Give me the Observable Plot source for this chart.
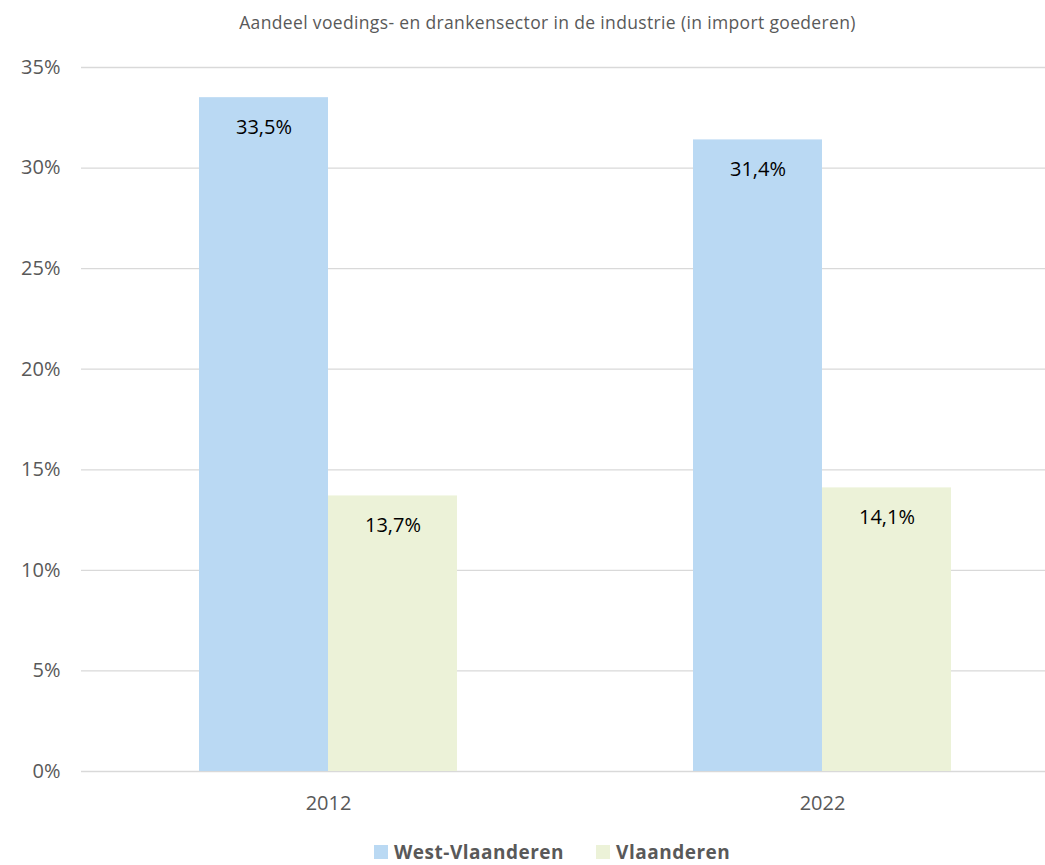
<!DOCTYPE html>
<html>
<head>
<meta charset="utf-8">
<script src="https://cdn.jsdelivr.net/npm/d3@7"></script>
<script src="https://cdn.jsdelivr.net/npm/@observablehq/plot@0.6"></script>
<style>
  html, body { margin: 0; padding: 0; background: #fff; width: 1045px; height: 865px; overflow: hidden; }
  #wrap { position: relative; width: 1045px; height: 865px; font-family: "Open Sans", sans-serif; }
  #title { position: absolute; top: 10px; left: 50px; width: 995px; text-align: center; font-size: 17.5px; letter-spacing: 0.35px; line-height: 24px; color: #595959; }
  #grid, #chart { position: absolute; top: 45px; left: 0; }
  #legend { position: absolute; top: 840px; left: 374px; display: flex; align-items: center; font-weight: bold; font-size: 19px; letter-spacing: 0.5px; line-height: 24px; color: #595959; }
  .item { display: flex; align-items: center; margin-right: 32px; }
  .sw { width: 14px; height: 14px; margin-right: 6px; }
</style>
</head>
<body>
<div id="wrap">
  <div id="title"></div>
  <div id="grid"></div>
  <div id="chart"></div>
  <div id="legend"></div>
</div>
<script>
const titleText = "Aandeel voedings- en drankensector in de industrie (in import goederen)";
const years = ["2012", "2022"];
const series = ["West-Vlaanderen", "Vlaanderen"];
const westValues = [33.5, 31.4];
const vlaanderenValues = [13.7, 14.1];
const yTicks = [0, 5, 10, 15, 20, 25, 30, 35];
const colors = ["#BAD9F3", "#ECF2D8"];

const data = years.flatMap((yr, i) => [
  {year: yr, series: series[0], value: westValues[i]},
  {year: yr, series: series[1], value: vlaanderenValues[i]}
]);
const fmt = v => v.toFixed(1).replace(".", ",") + "%";

document.getElementById("title").textContent = titleText;

const common = {
  width: 1045,
  height: 790,
  marginTop: 22,
  marginBottom: 64,
  marginLeft: 81,
  marginRight: 0,
  style: {fontFamily: "Open Sans, sans-serif", fontSize: "20px", color: "#595959", background: "transparent"},
  y: {domain: [0, 35], axis: null}
};

// Background layer: gridlines and y tick labels across the whole frame
const grid = Plot.plot({
  ...common,
  x: {axis: null},
  marks: [
    Plot.ruleY(yTicks, {y: d => d, stroke: "#D9D9D9", strokeWidth: 1.3}),
    Plot.text(yTicks, {y: d => d, text: d => d + "%", frameAnchor: "left", textAnchor: "end", dx: -21, fill: "#595959", fontSize: 20})
  ]
});
document.getElementById("grid").appendChild(grid);

// Foreground layer: grouped bars faceted by year
const chart = Plot.plot({
  ...common,
  fx: {domain: years, range: [81, 1069], paddingInner: 0.478, paddingOuter: 0.239, label: null, axis: null},
  x: {domain: series, padding: 0, axis: null},
  color: {domain: series, range: colors},
  marks: [
    Plot.barY(data, {fx: "year", x: "series", y: "value", fill: "series"}),
    Plot.text(data, {fx: "year", x: "series", y: "value", text: d => fmt(d.value), dy: 30, fill: "#000", fontSize: 20}),
    Plot.axisFx({anchor: "bottom", tickSize: 0, tickPadding: 24, fontSize: 20, fill: "#595959", label: null})
  ]
});
document.getElementById("chart").appendChild(chart);

const legend = document.getElementById("legend");
series.forEach((s, i) => {
  const item = document.createElement("div");
  item.className = "item";
  const sw = document.createElement("div");
  sw.className = "sw";
  sw.style.background = colors[i];
  const lab = document.createElement("span");
  lab.textContent = s;
  item.appendChild(sw);
  item.appendChild(lab);
  legend.appendChild(item);
});
</script>
</body>
</html>
